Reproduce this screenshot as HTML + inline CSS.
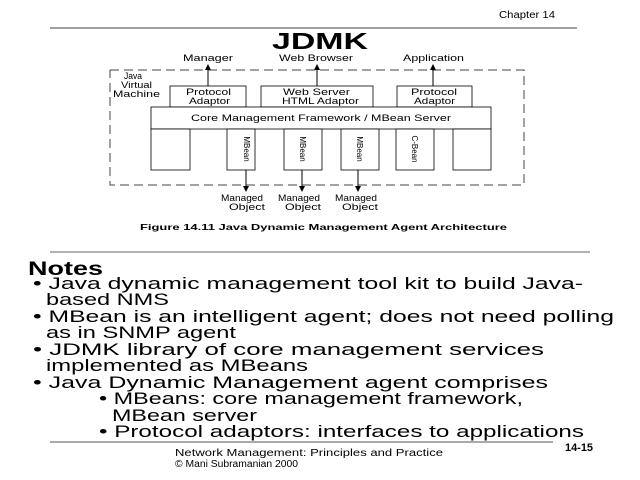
<!DOCTYPE html>
<html><head><style>
body{margin:0;background:#fff;}
svg{display:block;font-family:"Liberation Sans",sans-serif;}
</style></head><body>
<svg width="640" height="480" viewBox="0 0 640 480" xmlns="http://www.w3.org/2000/svg">
<defs><marker id="a" markerWidth="6" markerHeight="6" refX="3" refY="3" orient="auto"><path d="M0,0 L6,3 L0,6 z" fill="#000"/></marker></defs>
<text x="555" y="18" font-size="10" text-anchor="end" textLength="56" lengthAdjust="spacingAndGlyphs">Chapter 14</text>
<line x1="50" y1="28" x2="577" y2="28" stroke="#808080" stroke-width="1.5"/>
<text x="320" y="49" font-size="23" font-weight="bold" text-anchor="middle" textLength="96" lengthAdjust="spacingAndGlyphs">JDMK</text>
<g font-size="9">
<text x="183" y="61" textLength="50" lengthAdjust="spacingAndGlyphs">Manager</text><text x="279" y="61" textLength="74" lengthAdjust="spacingAndGlyphs">Web Browser</text><text x="403" y="61" textLength="61" lengthAdjust="spacingAndGlyphs">Application</text>
</g>
<rect x="110" y="70" width="414" height="115" fill="none" stroke="#444" stroke-dasharray="9,5"/>
<g font-size="9"><text x="124" y="79" textLength="18" lengthAdjust="spacingAndGlyphs">Java</text><text x="121" y="88" textLength="31" lengthAdjust="spacingAndGlyphs">Virtual</text><text x="113" y="97" textLength="47" lengthAdjust="spacingAndGlyphs">Machine</text></g>
<g stroke="#000" fill="#fff" stroke-width="0.8">
<rect x="170" y="86" width="76" height="21"/><rect x="261" y="86" width="112" height="21"/><rect x="397" y="86" width="75" height="21"/>
<rect x="151" y="107" width="340" height="22"/>
<rect x="151" y="129" width="39" height="41"/><rect x="227" y="129" width="28" height="41"/><rect x="284" y="129" width="38" height="41"/><rect x="341" y="129" width="38" height="41"/><rect x="396" y="129" width="38" height="41"/><rect x="453" y="129" width="38" height="41"/>
</g>
<g stroke="#000" stroke-width="1" marker-end="url(#a)">
<line x1="208" y1="86" x2="208" y2="67"/><line x1="317" y1="86" x2="317" y2="67"/><line x1="433" y1="86" x2="433" y2="67"/>
<line x1="246" y1="170" x2="246" y2="189"/><line x1="302" y1="170" x2="302" y2="189"/><line x1="358" y1="170" x2="358" y2="189"/>
</g>
<g font-size="9">
<text x="186" y="95" textLength="45" lengthAdjust="spacingAndGlyphs">Protocol</text><text x="189" y="104" textLength="41" lengthAdjust="spacingAndGlyphs">Adaptor</text>
<text x="283" y="95" textLength="67" lengthAdjust="spacingAndGlyphs">Web Server</text><text x="282" y="104" textLength="77" lengthAdjust="spacingAndGlyphs">HTML Adaptor</text>
<text x="411" y="95" textLength="46" lengthAdjust="spacingAndGlyphs">Protocol</text><text x="414" y="104" textLength="41" lengthAdjust="spacingAndGlyphs">Adaptor</text>
<text x="191" y="121" textLength="260" lengthAdjust="spacingAndGlyphs">Core Management Framework / MBean Server</text>
<text x="221" y="201" textLength="42" lengthAdjust="spacingAndGlyphs">Managed</text><text x="229" y="210" textLength="36" lengthAdjust="spacingAndGlyphs">Object</text>
<text x="278" y="201" textLength="42" lengthAdjust="spacingAndGlyphs">Managed</text><text x="285" y="210" textLength="36" lengthAdjust="spacingAndGlyphs">Object</text>
<text x="335" y="201" textLength="42" lengthAdjust="spacingAndGlyphs">Managed</text><text x="342" y="210" textLength="36" lengthAdjust="spacingAndGlyphs">Object</text>
</g>
<g font-size="8" text-anchor="middle">
<text transform="translate(244,149) rotate(90)">MBean</text>
<text transform="translate(300,149) rotate(90)">MBean</text>
<text transform="translate(357,149) rotate(90)">MBean</text>
<text transform="translate(412,149) rotate(90)">C-Bean</text>
</g>
<text x="140" y="230" font-size="8" font-weight="bold" textLength="367" lengthAdjust="spacingAndGlyphs">Figure 14.11 Java Dynamic Management Agent Architecture</text>
<line x1="50" y1="252" x2="590" y2="252" stroke="#999" stroke-width="1.5"/>
<text x="28" y="275" font-size="19" font-weight="bold" textLength="75" lengthAdjust="spacingAndGlyphs">Notes</text>
<g font-size="17">
<text x="33" y="289" textLength="550" lengthAdjust="spacingAndGlyphs">• Java dynamic management tool kit to build Java-</text>
<text x="46" y="305" textLength="123" lengthAdjust="spacingAndGlyphs">based NMS</text>
<text x="33" y="322" textLength="581" lengthAdjust="spacingAndGlyphs">• MBean is an intelligent agent; does not need polling</text>
<text x="46" y="338" textLength="190" lengthAdjust="spacingAndGlyphs">as in SNMP agent</text>
<text x="33" y="355" textLength="511" lengthAdjust="spacingAndGlyphs">• JDMK library of core management services</text>
<text x="46" y="371" textLength="262" lengthAdjust="spacingAndGlyphs">implemented as MBeans</text>
<text x="33" y="388" textLength="515" lengthAdjust="spacingAndGlyphs">• Java Dynamic Management agent comprises</text>
<text x="99" y="404" textLength="424" lengthAdjust="spacingAndGlyphs">• MBeans: core management framework,</text>
<text x="112" y="421" textLength="145" lengthAdjust="spacingAndGlyphs">MBean server</text>
<text x="99" y="437" textLength="485" lengthAdjust="spacingAndGlyphs">• Protocol adaptors: interfaces to applications</text>
</g>
<line x1="50" y1="442" x2="553" y2="442" stroke="#555" stroke-width="1"/>
<text x="175" y="456" font-size="10" textLength="268" lengthAdjust="spacingAndGlyphs">Network Management: Principles and Practice</text>
<text x="175" y="467" font-size="10" textLength="123" lengthAdjust="spacingAndGlyphs">© Mani Subramanian 2000</text>
<text x="565" y="451" font-size="11" font-weight="bold" textLength="28" lengthAdjust="spacingAndGlyphs">14-15</text>
</svg>
</body></html>
